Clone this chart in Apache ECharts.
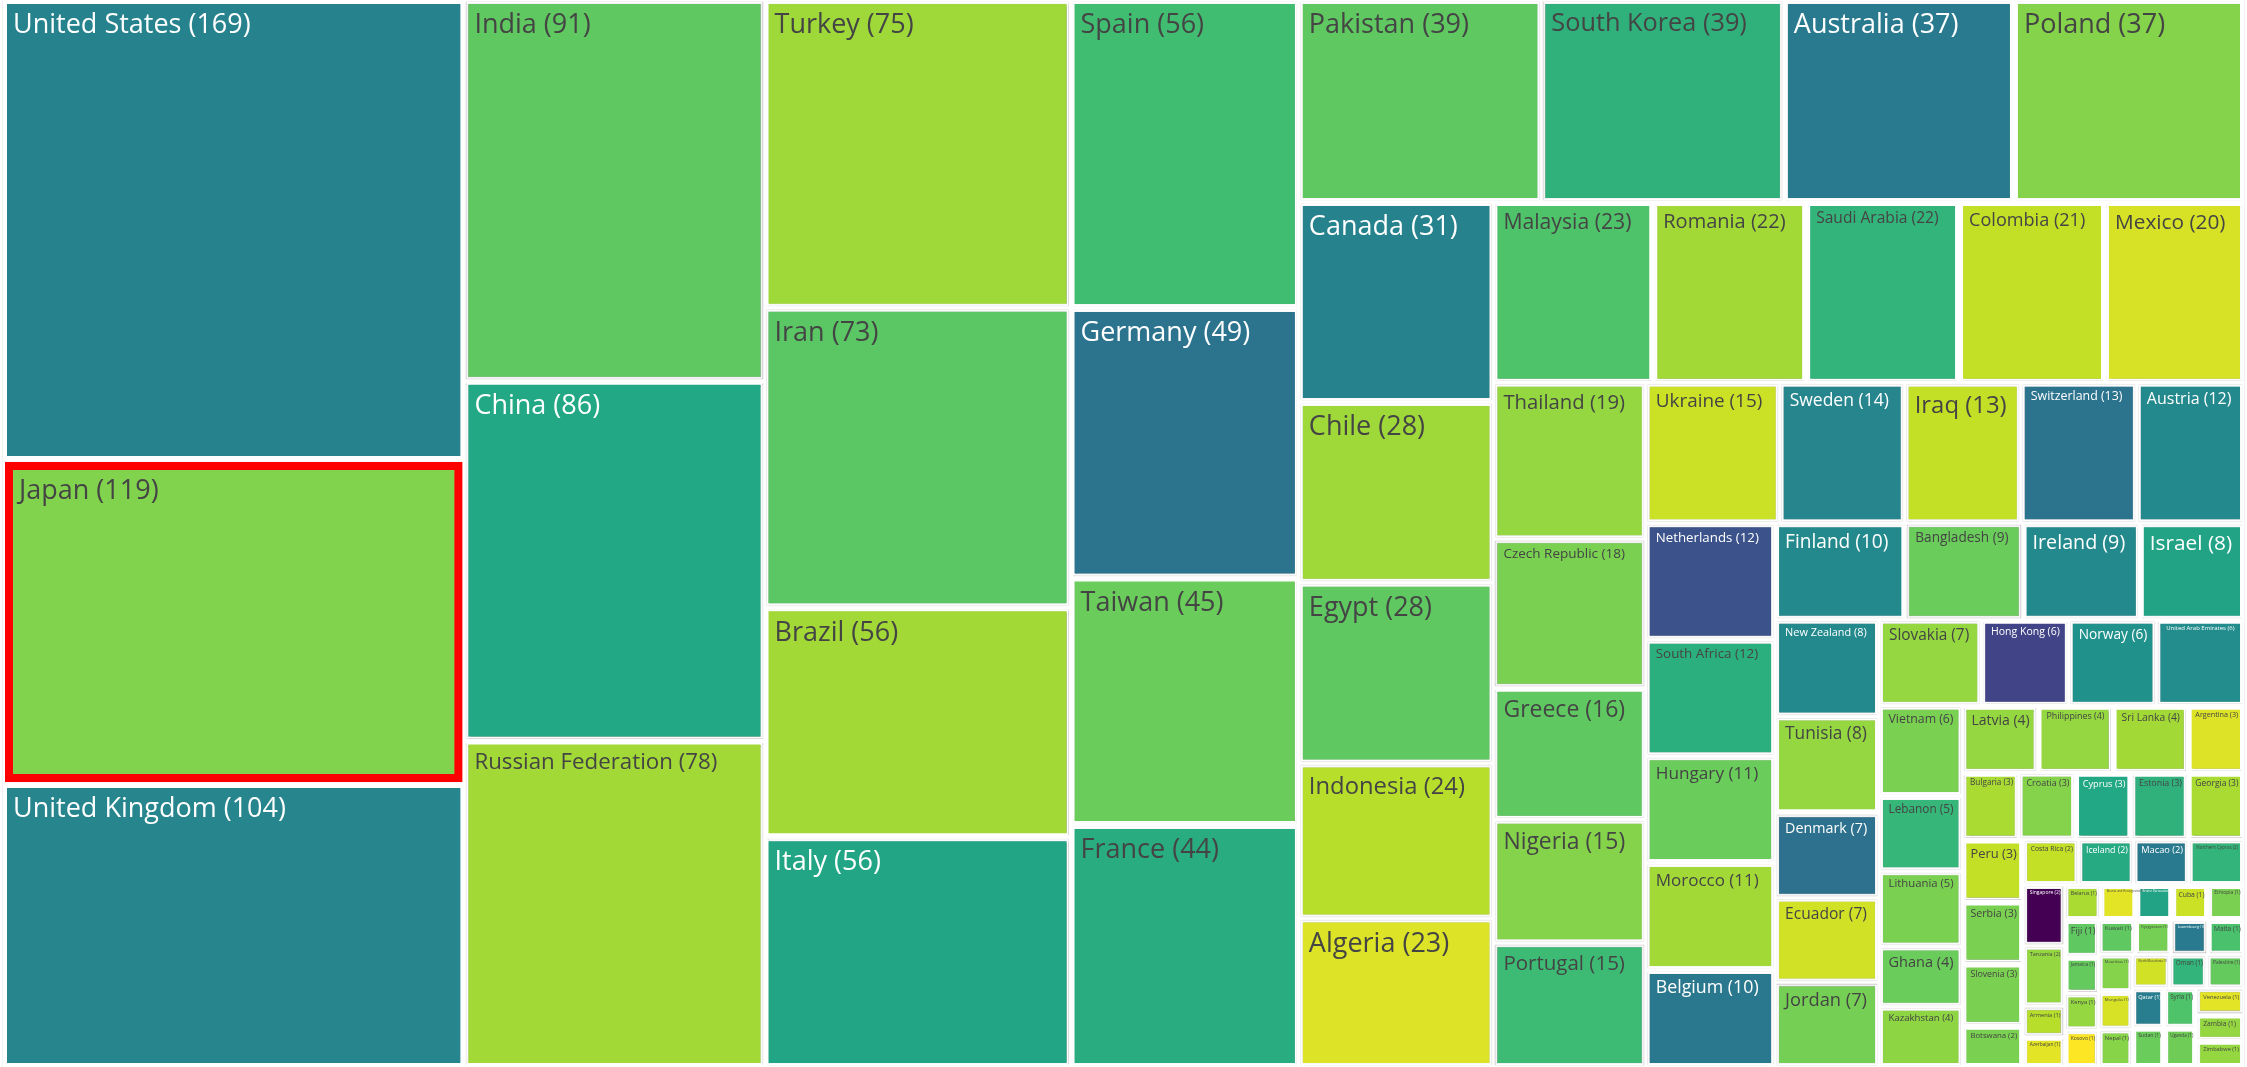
<!DOCTYPE html>
<html><head><meta charset="utf-8">
<script src="https://cdn.jsdelivr.net/npm/echarts@6/dist/echarts.min.js"></script>
<style>html,body{margin:0;padding:0;background:#fff;overflow:hidden}#c{width:2247px;height:1067px}</style>
</head><body><div id="c"></div>
<script>
// ---- data ----
const countries = ["United States","Japan","United Kingdom","India","China","Russian Federation","Turkey","Iran","Brazil","Italy","Spain","Germany","Taiwan","France","Pakistan","South Korea","Australia","Poland","Canada","Chile","Egypt","Indonesia","Algeria","Malaysia","Romania","Saudi Arabia","Colombia","Mexico","Thailand","Czech Republic","Greece","Nigeria","Portugal","Ukraine","Sweden","Iraq","Switzerland","Austria","Netherlands","South Africa","Hungary","Morocco","Belgium","Finland","Bangladesh","Ireland","Israel","New Zealand","Tunisia","Denmark","Ecuador","Jordan","Slovakia","Hong Kong","Norway","United Arab Emirates","Vietnam","Lebanon","Lithuania","Ghana","Kazakhstan","Latvia","Philippines","Sri Lanka","Argentina","Bulgaria","Croatia","Cyprus","Estonia","Georgia","Peru","Serbia","Slovenia","Botswana","Costa Rica","Iceland","Macao","Northern Cyprus","Singapore","Tanzania","Armenia","Azerbaijan","Belarus","Bosnia and Herzegovina","Brunei Darussalam","Cuba","Ethiopia","Fiji","Jamaica","Kenya","Kosovo","Kuwait","Kyrgyzstan","Luxembourg","Malta","Mauritius","Mongolia","Nepal","North Macedonia","Oman","Palestine","Qatar","Sudan","Syria","Uganda","Venezuela","Zambia","Zimbabwe"];
const counts = [169,119,104,91,86,78,75,73,56,56,56,49,45,44,39,39,37,37,31,28,28,24,23,23,22,22,21,20,19,18,16,15,15,15,14,13,13,12,12,12,11,11,10,10,9,9,8,8,8,7,7,7,7,6,6,6,6,5,5,4,4,4,4,4,3,3,3,3,3,3,3,3,3,2,2,2,2,2,2,2,1,1,1,1,1,1,1,1,1,1,1,1,1,1,1,1,1,1,1,1,1,1,1,1,1,1,1,1];
// position on the viridis colour scale (0..1) for each country
const colorValue = [0.44,0.81,0.45,0.75,0.60,0.86,0.855,0.74,0.86,0.585,0.69,0.38,0.77,0.62,0.75,0.64,0.41,0.815,0.44,0.855,0.75,0.89,0.95,0.72,0.86,0.65,0.91,0.94,0.84,0.80,0.75,0.815,0.68,0.92,0.45,0.91,0.38,0.47,0.25,0.63,0.77,0.86,0.40,0.47,0.77,0.47,0.58,0.47,0.84,0.37,0.93,0.79,0.84,0.20,0.50,0.48,0.80,0.66,0.80,0.77,0.83,0.84,0.84,0.86,0.95,0.87,0.815,0.60,0.64,0.87,0.91,0.80,0.80,0.80,0.91,0.61,0.41,0.65,0.0,0.84,0.89,0.96,0.87,0.96,0.58,0.92,0.80,0.75,0.76,0.84,1.0,0.75,0.79,0.41,0.71,0.815,0.94,0.82,0.93,0.65,0.76,0.42,0.77,0.72,0.78,0.96,0.84,0.84];
const highlighted = "Japan";

// ---- viridis scale ----
const viridis = ["#440154","#482475","#414487","#355f8d","#2a788e","#21918c","#22a884","#44bf70","#7ad151","#bddf26","#fde725"];
function hex2rgb(h){return [1,3,5].map(i=>parseInt(h.substr(i,2),16));}
function viridisAt(t){
  t=Math.max(0,Math.min(1,t));
  const p=t*(viridis.length-1), i=Math.min(Math.floor(p),viridis.length-2), f=p-i;
  const a=hex2rgb(viridis[i]), b=hex2rgb(viridis[i+1]);
  const c=a.map((v,k)=>Math.round(v+(b[k]-v)*f));
  return 'rgb('+c.join(',')+')';
}

const FONT = '"Open Sans", "Noto Sans", sans-serif';
const MAXFONT = 27;
const chart = echarts.init(document.getElementById('c'), null, {renderer:'canvas'});

function buildData(sizes){
  // ECharts breaks value ties by descending data index, so hand items over in reverse
  return countries.map((n,i)=>{
    const t=colorValue[i];
    const item={name:n,value:counts[i],
      itemStyle:{color:viridisAt(t)},
      label:{color: t<0.615 ? '#ffffff' : '#444444'}};
    if(n===highlighted){item.itemStyle.borderColor='#ff0000';item.itemStyle.borderWidth=8;}
    if(sizes && sizes[n]){item.label.fontSize=sizes[n].fs;item.label.padding=sizes[n].pad;}
    return item;
  }).reverse();
}

function makeOption(sizes){
  return {
    animation:false,
    backgroundColor:'#ffffff',
    series:[{
      type:'treemap',
      left:3,top:0,right:3,bottom:0,
      squareRatio:1,
      sort:'desc',
      roam:false,nodeClick:false,
      breadcrumb:{show:false},
      visibleMin:0,
      itemStyle:{borderColor:'#ffffff',borderWidth:2,gapWidth:4,
        shadowBlur:1,shadowColor:'rgba(0,0,0,0.3)'},
      label:{show:true,position:'insideTopLeft',fontFamily:FONT,fontSize:24,
        formatter:p=>p.name+' ('+p.value+')',overflow:'none'},
      emphasis:{disabled:true},
      data:buildData(sizes)
    }]
  };
}

chart.setOption(makeOption(null));

// fit label sizes to the cells that the library laid out
const ctx=document.createElement('canvas').getContext('2d');
ctx.font='100px '+FONT;
const sizes={};
const d=chart.getModel().getSeriesByIndex(0).getData();
for(let i=0;i<d.count();i++){
  const n=d.getName(i), L=d.getItemLayout(i);
  const idx=countries.indexOf(n);
  if(idx<0||!L) continue;
  const txt=n+' ('+counts[idx]+')';
  const w1=ctx.measureText(txt).width/100;
  let fs=Math.min(MAXFONT, 0.82*L.width/w1, 0.3*L.height);
  fs=Math.max(fs,3);
  const padX=Math.max(1,Math.min(6,0.07*L.width));
  const padY=Math.max(1,Math.min(8,fs*0.3));
  sizes[n]={fs:Math.round(fs*10)/10,pad:[padY,padX]};
}
chart.setOption(makeOption(sizes),{replaceMerge:['series']});
</script></body></html>
